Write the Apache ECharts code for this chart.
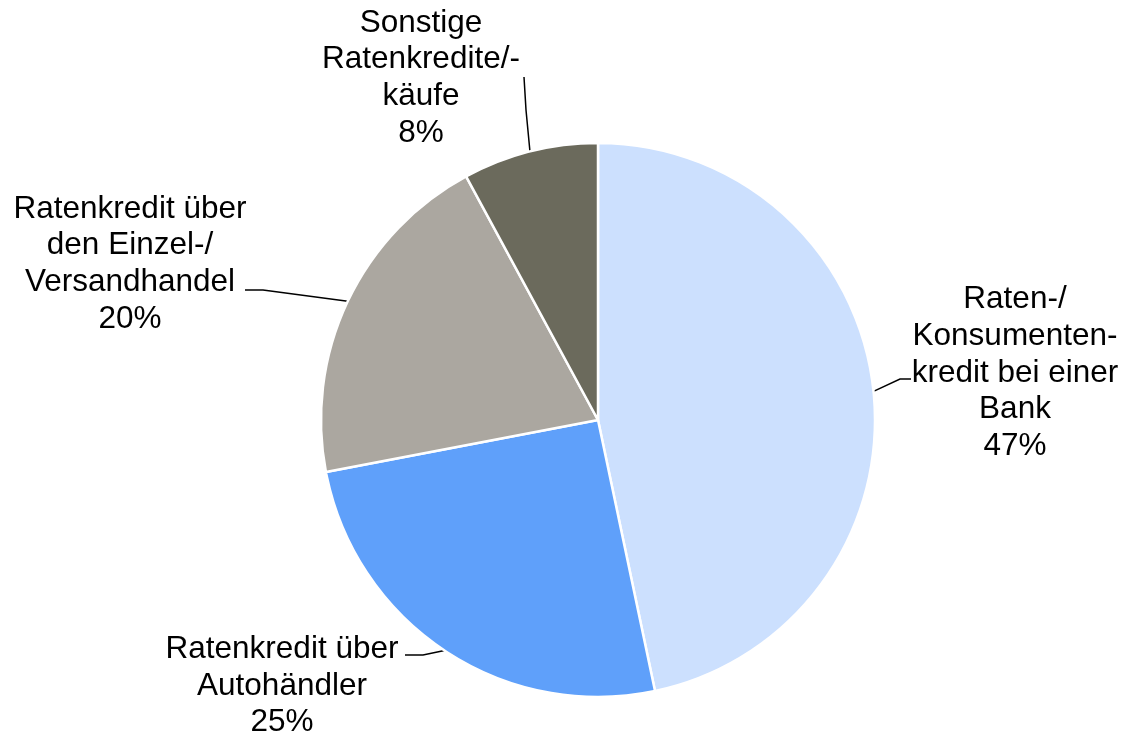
<!DOCTYPE html>
<html>
<head>
<meta charset="utf-8">
<style>
html,body{margin:0;padding:0;background:#fff;}
#chart{width:1128px;height:734px;}
</style>
<script src="https://cdn.jsdelivr.net/npm/echarts@6/dist/echarts.min.js"></script>
</head>
<body>
<div id="chart"></div>
<script>
// Data
var categories = [
  'Raten-/\nKonsumenten-\nkredit bei einer\nBank',
  'Ratenkredit über\nAutohändler',
  'Ratenkredit über\nden Einzel-/\nVersandhandel',
  'Sonstige\nRatenkredite/-\nkäufe'
];
var values = [46.7, 25.3, 20.1, 7.9];
var colors = ['#cce0fe', '#5fa0fa', '#aba7a0', '#6b6a5c'];

// Label layout (style only)
var labelPos = [
  {x: 1015, y: 373, elbow: [900, 379], end: [911, 379]},
  {x: 282,  y: 686, elbow: [423, 655], end: [405, 655]},
  {x: 130,  y: 264, elbow: [263, 290], end: [245, 290]},
  {x: 421,  y: 78,  elbow: [526, 110], end: [524, 77]}
];
var CX = 598, CY = 420, R = 277;

var chart = echarts.init(document.getElementById('chart'), null, {renderer: 'canvas'});
var pieData = categories.map(function (c, i) {
  return {name: c, value: values[i], itemStyle: {color: colors[i]}};
});
var total = values.reduce(function (a, b) { return a + b; }, 0);

chart.setOption({
  animation: false,
  backgroundColor: '#ffffff',
  series: [{
    type: 'pie',
    center: [CX, CY],
    radius: R,
    startAngle: 90,
    clockwise: true,
    avoidLabelOverlap: false,
    data: pieData,
    itemStyle: {borderColor: '#ffffff', borderWidth: 2.5},
    label: {
      show: true,
      position: 'outside',
      formatter: function (p) { return p.name + '\n' + Math.round(p.percent) + '%'; },
      fontFamily: 'Liberation Sans, Arial, sans-serif',
      fontSize: 31.5,
      lineHeight: 36.6,
      color: '#000000',
      align: 'center'
    },
    labelLine: {
      show: true,
      length: 20,
      length2: 10,
      smooth: false,
      lineStyle: {color: '#000000', width: 1.5}
    },
    emphasis: {disabled: true},
    labelLayout: function (params) {
      var i = params.dataIndex;
      var lp = labelPos[i];
      var cum = 0;
      for (var k = 0; k < i; k++) cum += values[k];
      var mid = (cum + values[i] / 2) / total * 2 * Math.PI;
      var start = [CX + R * Math.sin(mid), CY - R * Math.cos(mid)];
      return {
        x: lp.x,
        y: lp.y,
        align: 'center',
        verticalAlign: 'middle',
        labelLinePoints: [start, lp.elbow, lp.end]
      };
    }
  }]
});
</script>
</body>
</html>
